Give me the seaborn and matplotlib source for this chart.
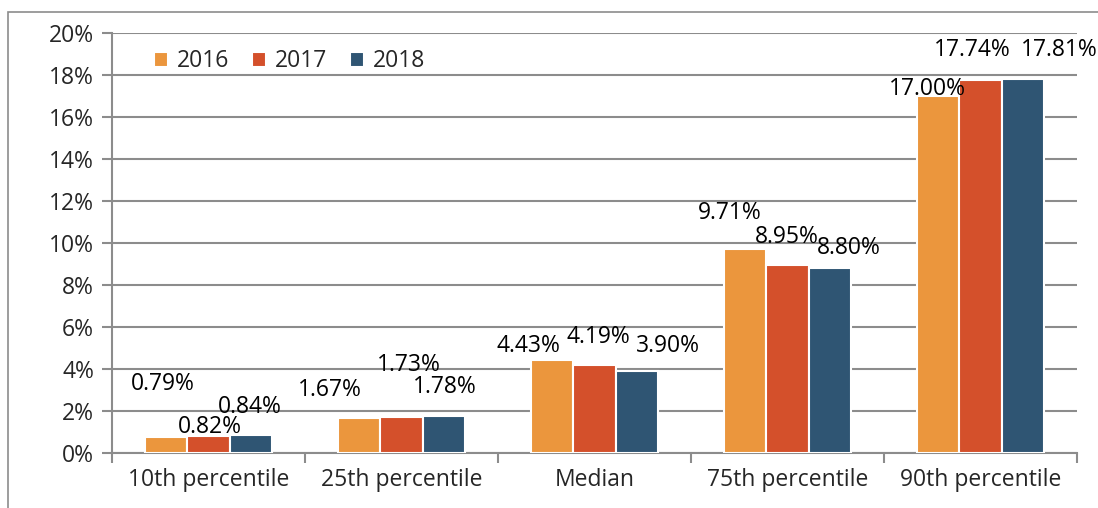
import pandas as pd
import numpy as np
import seaborn as sns
import matplotlib.pyplot as plt
from matplotlib.patches import Rectangle

## data
categories = ["10th percentile", "25th percentile", "Median", "75th percentile", "90th percentile"]
years = ["2016", "2017", "2018"]
v2016 = [0.79, 1.67, 4.43, 9.71, 17.00]
v2017 = [0.82, 1.73, 4.19, 8.95, 17.74]
v2018 = [0.84, 1.78, 3.90, 8.80, 17.81]
colors = ["#EB963D", "#D4502B", "#2F5573"]

# label offsets in pixels (dx, dy) from bar top, matching the manual placement
label_offsets = {
    "2016": [(-3, 53), (-29, 28), (-24, 14), (-15, 36), (-11, 7)],
    "2017": [(1, 9), (7, 52), (4, 28), (-1, 28), (-8, 30)],
    "2018": [(-1, 28), (1, 29), (31, 25), (19, 20), (36, 29)],
}

df = pd.DataFrame({
    "category": categories * 3,
    "year": [y for y in years for _ in categories],
    "value": v2016 + v2017 + v2018,
})

sns.set_style("white")
plt.rcParams['font.family'] = ['Open Sans', 'DejaVu Sans']
FS = 16.5

fig = plt.figure(figsize=(10.98, 5.08), dpi=100)
ax = fig.add_axes([0.102, 0.108, 0.879, 0.827])

# outer chart border
fig.patches.append(Rectangle((0.0073, -0.05), 1.1, 0.976 + 0.05, transform=fig.transFigure,
                             fill=False, edgecolor="#8c8c8c", linewidth=1.2))

sns.barplot(data=df, x="category", y="value", hue="year", palette=colors, saturation=1,
            width=0.66, edgecolor="white", linewidth=1.5, ax=ax, zorder=3)

ax.set_ylim(0, 20)
ax.set_xlim(-0.5, 4.5)
ax.set_yticks(np.arange(0, 21, 2))
ax.set_yticklabels([f"{t}%" for t in range(0, 21, 2)])
ax.yaxis.grid(True, color="#8c8c8c", linewidth=1.5, zorder=0)
ax.set_axisbelow(True)
ax.set_xlabel("")
ax.set_ylabel("")

for s in ["top", "right"]:
    ax.spines[s].set_visible(False)
for s in ["left", "bottom"]:
    ax.spines[s].set_color("#8c8c8c")
    ax.spines[s].set_linewidth(1.5)

ax.tick_params(axis="y", labelsize=FS, length=7, width=1.5, color="#8c8c8c", direction="out", left=True, pad=6)
ax.tick_params(axis="x", which="major", labelsize=FS, length=0, pad=11)
ax.set_xticks(np.arange(-0.5, 5.0, 1.0), minor=True)
ax.tick_params(axis="x", which="minor", length=7, width=1.5, color="#8c8c8c", bottom=True)

# data labels
for container, year in zip(ax.containers, years):
    for bar, (dx, dy) in zip(container, label_offsets[year]):
        h = bar.get_height()
        ax.annotate(f"{h:.2f}%", xy=(bar.get_x() + bar.get_width() / 2, h),
                    xytext=(dx, dy), textcoords="offset pixels",
                    ha="center", va="center", fontsize=FS, color="black",
                    annotation_clip=False, zorder=5)

leg = ax.legend(loc="upper left", bbox_to_anchor=(0.022, 1.01), ncol=3, frameon=False,
                fontsize=FS, handlelength=0.6, handleheight=0.6, handletextpad=0.4,
                columnspacing=1.0)

fig.savefig("out.png", dpi=100)
